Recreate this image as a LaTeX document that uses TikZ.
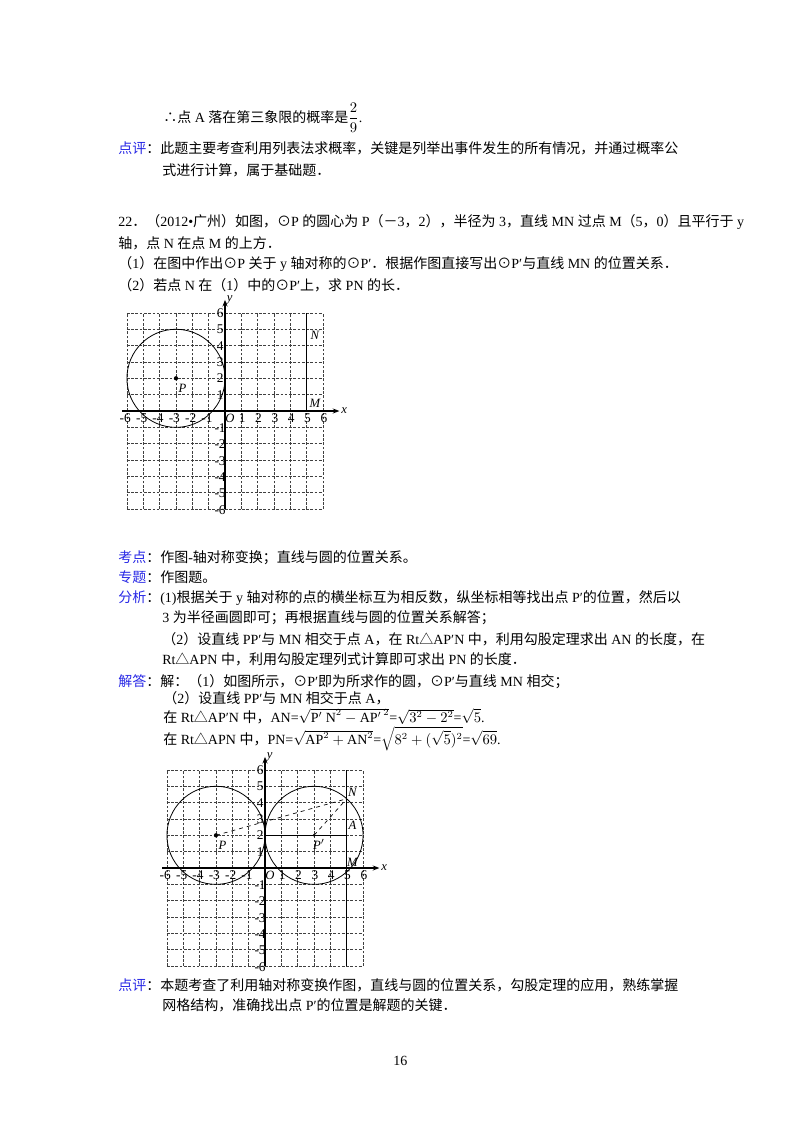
\documentclass[tikz,border=0pt]{standalone}
\usepackage{fontspec}
\setmainfont{Liberation Serif}
\newfontfamily\cjk{Noto Sans CJK SC}
\newXeTeXintercharclass\cjkclass
\count255="4E00
\loop\XeTeXcharclass\count255=\cjkclass\ifnum\count255<"9FFF\advance\count255 1\repeat
\count255="3000
\loop\XeTeXcharclass\count255=\cjkclass\ifnum\count255<"303F\advance\count255 1\repeat
\count255="FF00
\loop\XeTeXcharclass\count255=\cjkclass\ifnum\count255<"FFEF\advance\count255 1\repeat
\XeTeXcharclass"2299=\cjkclass
\XeTeXcharclass"25B3=\cjkclass
\XeTeXcharclass"2234=\cjkclass
\XeTeXinterchartoks 0 \cjkclass = {\cjk}
\XeTeXinterchartoks 4095 \cjkclass = {\cjk}
\XeTeXinterchartoks \cjkclass 0 = {\rmfamily}
\XeTeXinterchartoks \cjkclass 4095 = {\rmfamily}
\XeTeXinterchartokenstate=1
\usetikzlibrary{arrows.meta}
\definecolor{lab}{RGB}{40,40,230}
\tikzset{txt/.style={anchor=base west,inner sep=0pt,font=\fontsize{10.5pt}{12pt}\selectfont},
 gridl/.style={dash pattern=on 2pt off 1.2pt,line width=0.6pt,black!75},
 ax/.style={line width=0.8pt,-{Stealth[length=5pt]}},
 num/.style={inner sep=0pt,font=\fontsize{10pt}{10pt}\selectfont},
 pl/.style={inner sep=0pt,font=\fontsize{9.5pt}{10pt}\selectfont\itshape}}
\newcommand{\coordgrid}{%
 \foreach \i in {-6,...,6}{\draw[gridl] (\i,-6) -- (\i,6); \draw[gridl] (-6,\i) -- (6,\i);}
 \draw[ax] (-6.3,0) -- (7,0) node[pl,right=1pt]{x};
 \draw[ax] (0,-6) -- (0,6.8) node[pl,right=1pt]{y};
 \foreach \i in {1,...,6}{\node[num] at (-0.3,\i) {\i};\node[num] at (-0.3,-\i-0.05) {-\i};
   \node[num] at (\i+0.05,-0.45) {\i};\node[num] at (-\i-0.1,-0.45) {-\i};}
 \node[pl] at (0.3,-0.45) {O};
 \draw[line width=0.6pt] (-3,2) circle (3);
 \fill (-3,2) circle (0.13);
 \node[pl] at (-2.6,1.4) {P};}
\begin{document}
\begin{tikzpicture}[x=0.75pt,y=-0.75pt]
\fill[white] (0,0) rectangle (800,1132);
\useasboundingbox (0,0) rectangle (800,1132);
\node[txt] (l1) at (163,122) {∴点 A 落在第三象限的概率是$\displaystyle\frac{2}{9}$.};
\node[txt] (l2) at (118,153) {\textcolor{lab}{点评}：此题主要考查利用列表法求概率，关键是列举出事件发生的所有情况，并通过概率公};
\node[txt] (l3) at (162,175) {式进行计算，属于基础题．};
\node[txt] (l4) at (118,226) {22．（2012•广州）如图，⊙P 的圆心为 P（－3，2），半径为 3，直线 MN 过点 M（5，0）且平行于 y};
\node[txt] (l5) at (118,248) {轴，点 N 在点 M 的上方．};
\node[txt] (l6) at (118,268) {（1）在图中作出⊙P 关于 y 轴对称的⊙P′．根据作图直接写出⊙P′与直线 MN 的位置关系．};
\node[txt] (l7) at (118,290) {（2）若点 N 在（1）中的⊙P′上，求 PN 的长．};
\begin{scope}[shift={(225,411)},x=12.26pt,y=12.26pt]
\coordgrid
\draw[line width=0.8pt] (5,0) -- (5,6);
\node[pl] at (5.5,4.6) {N};
\node[pl] at (5.5,0.45) {M};
\end{scope}
\node[txt] (k1) at (118,562) {\textcolor{lab}{考点}：作图-轴对称变换；直线与圆的位置关系。};
\node[txt] (k2) at (118,582) {\textcolor{lab}{专题}：作图题。};
\node[txt] (k3) at (118,602) {\textcolor{lab}{分析}：(1)根据关于 y 轴对称的点的横坐标互为相反数，纵坐标相等找出点 P′的位置，然后以};
\node[txt] (k4) at (162,622) {3 为半径画圆即可；再根据直线与圆的位置关系解答；};
\node[txt] (k5) at (162,644) {（2）设直线 PP′与 MN 相交于点 A，在 Rt△AP′N 中，利用勾股定理求出 AN 的长度，在};
\node[txt] (k6) at (162,664) {Rt△APN 中，利用勾股定理列式计算即可求出 PN 的长度．};
\node[txt] (k7) at (118,686) {\textcolor{lab}{解答}：解：（1）如图所示，⊙P′即为所求作的圆，⊙P′与直线 MN 相交；};
\node[txt] (s1) at (163,703) {（2）设直线 PP′与 MN 相交于点 A，};
\node[txt] (s2) at (163,722) {在 Rt△AP′N 中，AN=$\sqrt{\mathrm{P'\ N}^2-\mathrm{AP'}^{\,2}}$=$\sqrt{3^2-2^2}$=$\sqrt{5}$.};
\node[txt] (s3) at (163,744) {在 Rt△APN 中，PN=$\sqrt{\mathrm{AP}^2+\mathrm{AN}^2}$=$\sqrt{8^2+(\sqrt{5})^2}$=$\sqrt{69}$.};
\begin{scope}[shift={(265,868)},x=12.26pt,y=12.26pt]
\coordgrid
\draw[line width=0.6pt] (3,2) circle (3);
\fill (3,2) circle (0.09);
\draw[line width=0.8pt] (5,-6) -- (5,6);
\draw[line width=0.6pt] (0,2) -- (5,2);
\draw[dashed,line width=0.5pt] (-3,2) -- (5,4.236);
\draw[dashed,line width=0.5pt] (3,2) -- (5,4.236);
\node[pl] at (3.3,1.45) {P$'$};
\node[pl] at (5.35,4.6) {N};
\node[pl] at (5.35,2.6) {A};
\node[pl] at (5.35,0.35) {M};
\end{scope}
\node[txt] (d1) at (118,990) {\textcolor{lab}{点评}：本题考查了利用轴对称变换作图，直线与圆的位置关系，勾股定理的应用，熟练掌握};
\node[txt] (d2) at (162,1010) {网格结构，准确找出点 P′的位置是解题的关键．};
\node[txt] (pg) at (393,1065) {16};
\end{tikzpicture}
\end{document}
